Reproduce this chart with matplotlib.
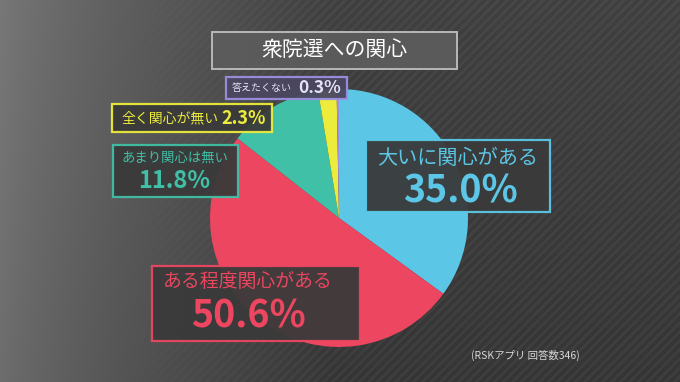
import numpy as np
import matplotlib.pyplot as plt
from matplotlib.patches import Rectangle

plt.rcParams['font.family'] = ['Noto Sans CJK JP', 'DejaVu Sans']

# data
labels = ['大いに関心がある', 'ある程度関心がある', 'あまり関心は無い', '全く関心が無い', '答えたくない']
shares = [35.0, 50.6, 11.8, 2.3, 0.3]
colors = ['#5cc6e6', '#ec4660', '#40c0a6', '#ecec3c', '#9c8ee0']
title = '衆院選への関心'
note = '(RSKアプリ 回答数346)'

W, H = 680, 382
fig = plt.figure(figsize=(6.8, 3.82), dpi=100)
ax = fig.add_axes([0, 0, 1, 1])

# background: lighter on the left, dark striped on the right
xx, yy = np.meshgrid(np.arange(W), np.arange(H))
bg = 0.47 - 0.22 * np.clip(xx / 330.0, 0, 1) ** 0.8 - 0.04 * (yy / H)
stripes = 0.03 * (np.sin((xx + yy) * 2 * np.pi / 9.0) > 0.2)
bg = np.clip(bg + stripes * np.clip((xx - 120) / 200.0, 0, 1), 0, 1)
ax.imshow(np.dstack([bg, bg, bg]), extent=(0, W, H, 0), origin='upper', zorder=0)

# pie (y axis inverted, so counterclock in data = clockwise on screen)
ax.pie(shares, colors=colors, startangle=-90, counterclock=True,
       center=(339, 218), radius=129, frame=True,
       wedgeprops=dict(linewidth=0))
ax.set_xlim(0, W)
ax.set_ylim(H, 0)
ax.set_aspect('equal')
ax.axis('off')


def box(x0, y0, x1, y1, edge, face='#3a3a3a', lw=1.6, alpha=0.95):
    ax.add_patch(Rectangle((x0, y0), x1 - x0, y1 - y0, facecolor=face,
                           edgecolor=edge, linewidth=lw, alpha=alpha, zorder=5))


def txt(x, y, s, color, size, bold=False, ha='center'):
    ax.text(x, y, s, color=color, fontsize=size, ha=ha, va='center', zorder=6,
            fontweight='bold' if bold else 'normal')


# title
box(212, 32, 457, 69, '#bdbdbd', face='#5c5c5c', lw=1.4)
txt(334, 50, title, 'white', 15)

# 大いに関心がある
box(366, 140, 550, 212, colors[0])
txt(458, 158, labels[0], colors[0], 14.5)
txt(460, 191, f'{shares[0]:.1f}%', colors[0], 27, bold=True)

# ある程度関心がある
box(152, 266, 360, 341, colors[1])
txt(248, 282, labels[1], colors[1], 13.6)
txt(248, 316, f'{shares[1]:.1f}%', colors[1], 27, bold=True)

# あまり関心は無い
box(113, 145, 238, 197, colors[2])
txt(175, 158, labels[2], colors[2], 9.6)
txt(174, 181, f'{shares[2]:.1f}%', colors[2], 17, bold=True)

# 全く関心が無い
box(112, 104, 272, 132, colors[3])
txt(122, 118, labels[3], colors[3], 10, ha='left')
txt(244, 118, f'{shares[3]:.1f}%', colors[3], 13, bold=True)

# 答えたくない
box(226, 77, 347, 99, colors[4], face='#4a4760')
txt(232, 88, labels[4], '#e6e2f6', 7.2, ha='left')
txt(320, 88, f'{shares[4]:.1f}%', '#e6e2f6', 12.5, bold=True)

# source note
txt(525, 355, note, '#d8d8d8', 7.5)

fig.savefig('out.png', dpi=100)
